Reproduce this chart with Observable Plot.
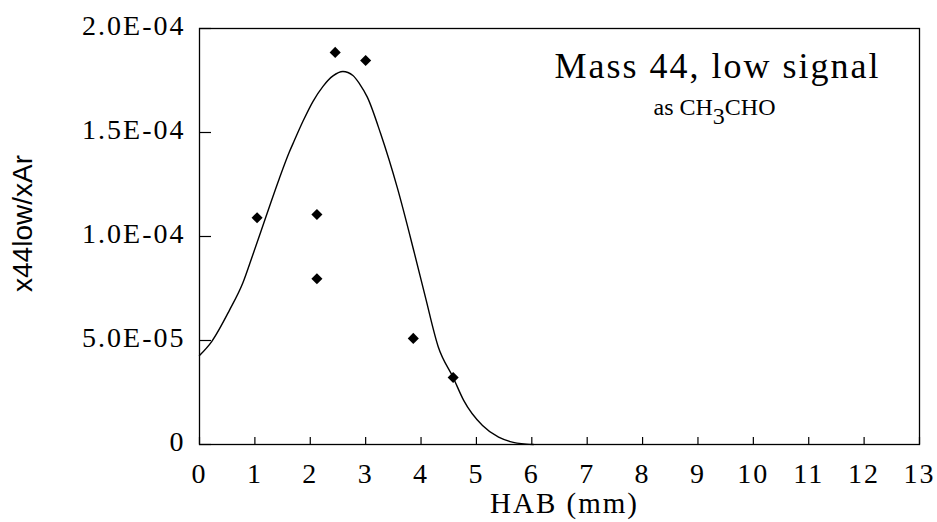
<!DOCTYPE html>
<html>
<head>
<meta charset="utf-8">
<script src="https://cdn.jsdelivr.net/npm/d3@7"></script>
<script src="https://cdn.jsdelivr.net/npm/@observablehq/plot@0.6"></script>
<style>
  body { margin: 0; background: #fff; }
</style>
</head>
<body>
<div id="chart"></div>
<script>
// Measured points (HAB in mm, x44low/xAr)
const pointHAB   = [1.04, 2.12, 2.12, 2.45, 3.00, 3.86, 4.58];
const pointRatio = [1.09e-4, 1.106e-4, 7.97e-5, 1.885e-4, 1.846e-4, 5.1e-5, 3.22e-5];

// Fitted curve
const curveHAB   = [0, 0.22, 0.54, 0.78, 0.96, 1.11, 1.29, 1.44, 1.62, 1.71, 1.87, 2.05, 2.23, 2.41, 2.59, 2.77, 2.89, 3.03, 3.27, 3.57, 3.88, 4.08, 4.31, 4.58, 4.77, 5.11, 5.40, 5.61, 5.90, 6.03];
const curveRatio = [4.28e-5, 4.95e-5, 6.45e-5, 7.75e-5, 9.1e-5, 1.025e-4, 1.165e-4, 1.278e-4, 1.405e-4, 1.46e-4, 1.555e-4, 1.65e-4, 1.722e-4, 1.772e-4, 1.793e-4, 1.774e-4, 1.734e-4, 1.67e-4, 1.495e-4, 1.236e-4, 9.2e-5, 7.07e-5, 4.7e-5, 3.22e-5, 2.12e-5, 9.1e-6, 3.5e-6, 1.4e-6, 2e-7, 0];

const xTicks = [0, 1, 2, 3, 4, 5, 6, 7, 8, 9, 10, 11, 12, 13];
const yTicks = [0, 5e-5, 1e-4, 1.5e-4, 2e-4];
const yTickLabels = ["0", "5.0E-05", "1.0E-04", "1.5E-04", "2.0E-04"];

const titleText = "Mass 44, low signal";
const subtitleParts = ["as CH", "3", "CHO"];
const xLabel = "HAB (mm)";
const yLabel = "x44low/xAr";

const points = pointHAB.map((x, i) => ({x, y: pointRatio[i]}));
const curve = curveHAB.map((x, i) => ({x, y: curveRatio[i]}));

const serif = "'Liberation Serif', 'Times New Roman', serif";

const chart = Plot.plot({
  width: 937,
  height: 522,
  marginLeft: 199,
  marginRight: 18,
  marginTop: 28,
  marginBottom: 78,
  style: {fontFamily: serif, background: "white", color: "black"},
  x: {domain: [0, 13]},
  y: {domain: [0, 2e-4]},
  marks: [
    Plot.frame({stroke: "black", strokeWidth: 1.3}),
    Plot.tickX(xTicks, {x: d => d, insetTop: 409, stroke: "black", strokeWidth: 1.2}),
    Plot.tickY(yTicks, {y: d => d, insetRight: 708, stroke: "black", strokeWidth: 1.2}),
    Plot.axisX({ticks: xTicks, tickSize: 0, tickPadding: 19, fontSize: 28, label: null, fill: "black"}),
    Plot.axisY({ticks: yTicks, tickSize: 0, tickPadding: 14, fontSize: 28, label: null, fill: "black", dy: -2,
      tickFormat: d => yTickLabels[yTicks.indexOf(d)]}),
    Plot.line(curve, {x: "x", y: "y", curve: "monotone-x", stroke: "black", strokeWidth: 1.4}),
    Plot.dot(points, {x: "x", y: "y", symbol: "diamond2", r: 5, fill: "black", stroke: "none"}),
    Plot.text([titleText], {frameAnchor: "top-right", textAnchor: "end", lineAnchor: "top", dx: -39, dy: 24, fontSize: 36, fill: "black"}),
    Plot.text([subtitleParts.join("")], {frameAnchor: "top-right", textAnchor: "end", lineAnchor: "top", dx: -144, dy: 69, fontSize: 24, fill: "black"}),
    Plot.text([xLabel], {frameAnchor: "bottom", lineAnchor: "top", dx: 5, dy: 48, fontSize: 29, fill: "black"}),
    Plot.text([yLabel], {frameAnchor: "left", rotate: -90, textAnchor: "middle", lineAnchor: "middle", dx: -176, dy: -13, fontSize: 28, fill: "black", fontFamily: "'Liberation Sans', Arial, sans-serif"})
  ]
});

const svg = d3.select(chart);
svg.selectAll("g[aria-label='y-axis tick label'] text").style("letter-spacing", "2px");
svg.selectAll("g[aria-label='x-axis tick label'] text").style("letter-spacing", "2px");
svg.selectAll("text").each(function() {
  const t = d3.select(this);
  const s = t.text();
  if (s === titleText) t.style("letter-spacing", "2px");
  if (s === xLabel) t.style("letter-spacing", "2px");
  if (s === subtitleParts.join("")) {
    t.text("");
    t.append("tspan").text(subtitleParts[0]);
    t.append("tspan").attr("dy", "0.4em").text(subtitleParts[1]);
    t.append("tspan").attr("dy", "-0.4em").text(subtitleParts[2]);
  }
});

document.getElementById("chart").appendChild(chart);
</script>
</body>
</html>
